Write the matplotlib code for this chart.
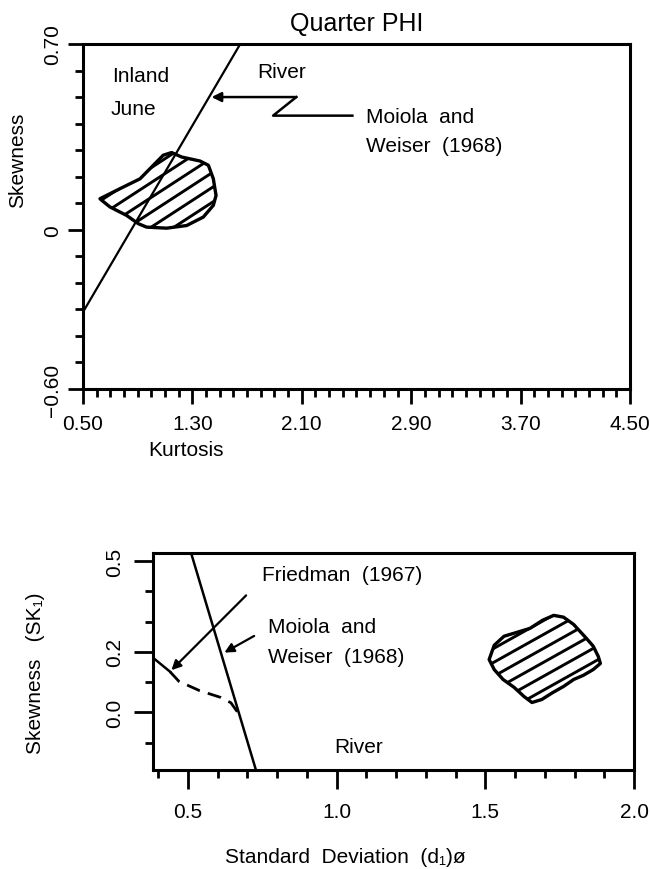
#==============================================
# IMPORT LIBRARIES
#==============================================

import numpy as np
import matplotlib
matplotlib.use("Agg")
import matplotlib.pyplot as plt
from matplotlib.patches import Polygon
from matplotlib.ticker import MultipleLocator

plt.rcParams["font.family"]=["Liberation Sans","DejaVu Sans"]
plt.rcParams["font.size"]=15

#==============================================
# DATA - TOP PANEL (KURTOSIS vs SKEWNESS)
#==============================================

top_xlim=[0.50,4.50]
top_ylim=[-0.60,0.70]
top_xticks=[0.50,1.30,2.10,2.90,3.70,4.50]
top_xtick_labels=["0.50","1.30","2.10","2.90","3.70","4.50"]
top_yticks=[0.70,0.0,-0.60]
top_ytick_labels=["0.70","0","\u22120.60"]

# Moiola and Weiser (1968) boundary, inland / river
top_line_x=[0.50,1.65]
top_line_y=[-0.31,0.70]

# arrow label path (zig-zag), last point is the arrow tip
top_arrow_x=[2.47,1.89,2.06,1.44]
top_arrow_y=[0.43,0.43,0.50,0.50]

# Quarter PHI sample field
top_blob_x=[0.624,0.771,0.917,1.014,1.087,1.148,1.222,1.356,1.417,1.453,1.473,
            1.453,1.380,1.258,1.111,0.965,0.904,0.819,0.697,0.637]
top_blob_y=[0.117,0.155,0.192,0.243,0.281,0.291,0.274,0.259,0.243,0.192,0.129,
            0.092,0.048,0.016,0.006,0.010,0.023,0.054,0.086,0.111]

#==============================================
# DATA - BOTTOM PANEL (SORTING vs SKEWNESS)
#==============================================

bot_xlim=[0.383,2.0]
bot_ylim=[-0.19,0.527]
bot_xticks=[0.5,1.0,1.5,2.0]
bot_xtick_labels=["0.5","1.0","1.5","2.0"]
bot_yticks=[0.5,0.2,0.0]
bot_ytick_labels=["0.5","0.2","0.0"]

# Moiola and Weiser (1968) line
bot_line_x=[0.511,0.729]
bot_line_y=[0.527,-0.19]

# Friedman (1967) boundary: solid start then dashed
fried_solid_x=[0.383,0.44]
fried_solid_y=[0.181,0.135]
fried_dash_x=[0.44,0.47,0.54,0.61,0.645,0.668]
fried_dash_y=[0.135,0.103,0.072,0.050,0.032,0.0]

# label arrows: [start, tip]
fried_arrow_x=[0.696,0.445]
fried_arrow_y=[0.387,0.140]
moiola_arrow_x=[0.723,0.623]
moiola_arrow_y=[0.253,0.198]

# sample field
bot_blob_x=[1.513,1.530,1.563,1.607,1.650,1.693,1.730,1.763,1.797,1.840,1.863,1.880,
            1.887,1.863,1.830,1.797,1.763,1.727,1.690,1.657,1.630,1.597,1.560,1.530]
bot_blob_y=[0.175,0.222,0.252,0.265,0.278,0.305,0.321,0.315,0.291,0.245,0.219,0.185,
            0.162,0.142,0.123,0.109,0.086,0.066,0.043,0.033,0.053,0.083,0.109,0.142]

#==============================================
# HELPERS
#==============================================

def hatch_blob(ax,xs,ys,slope,step):
    outline=Polygon(np.column_stack([xs,ys]),closed=True,fill=False,
                    lw=2.4,edgecolor="black",joinstyle="round")
    ax.add_patch(outline)
    xa,xb=min(xs),max(xs)
    offs=[y-slope*x for x,y in zip(xs,ys)]
    for c in np.arange(min(offs)+step*0.6,max(offs),step):
        ln,=ax.plot([xa,xb],[c+slope*xa,c+slope*xb],color="black",lw=2.1)
        ln.set_clip_path(outline)

def style_axes(ax,major_len,minor_len,xpad,ypad):
    for s in ax.spines.values():
        s.set_linewidth(2.2)
    ax.xaxis.set_minor_locator(MultipleLocator(0.1))
    ax.yaxis.set_minor_locator(MultipleLocator(0.1))
    ax.tick_params(which="major",direction="out",length=major_len,width=2.0)
    ax.tick_params(which="minor",direction="out",length=minor_len,width=2.0)
    ax.tick_params(axis="x",which="major",pad=xpad)
    ax.tick_params(axis="y",which="major",pad=ypad)
    for t in ax.get_yticklabels():
        t.set_rotation(90)
        t.set_va("center")

#==============================================
# FIGURE
#==============================================

fig=plt.figure(figsize=(6.5,8.7),dpi=100)

# ---- top panel ----
ax1=fig.add_axes([0.1277,0.5517,0.8415,0.3966])
ax1.set_xlim(top_xlim)
ax1.set_ylim(top_ylim)
ax1.set_xticks(top_xticks)
ax1.set_xticklabels(top_xtick_labels)
ax1.set_yticks(top_yticks)
ax1.set_yticklabels(top_ytick_labels)
style_axes(ax1,11,5.5,7,4)

ax1.plot(top_line_x,top_line_y,color="black",lw=1.6)
ax1.plot(top_arrow_x[:-1],top_arrow_y[:-1],color="black",lw=1.8)
ax1.annotate("",xy=(top_arrow_x[-1],top_arrow_y[-1]),
             xytext=(top_arrow_x[-2],top_arrow_y[-2]),
             arrowprops=dict(arrowstyle="-|>",color="black",lw=1.8,
                             mutation_scale=14,shrinkA=0,shrinkB=0))
hatch_blob(ax1,top_blob_x,top_blob_y,0.335,0.056)

ax1.text(0.712,0.581,"Inland",va="center")
ax1.text(0.700,0.457,"June",va="center")
ax1.text(1.772,0.596,"River",va="center")
ax1.text(2.57,0.426,"Moiola  and",va="center")
ax1.text(2.57,0.317,"Weiser  (1968)",va="center")

ax1.set_title("Quarter PHI",pad=10)
ax1.set_xlabel("Kurtosis")
ax1.xaxis.set_label_coords(0.188,-0.148)
ax1.set_ylabel("Skewness")
ax1.yaxis.set_label_coords(-0.102,0.667)

# ---- bottom panel ----
ax2=fig.add_axes([0.2354,0.1138,0.7400,0.2494])
ax2.set_xlim(bot_xlim)
ax2.set_ylim(bot_ylim)
ax2.set_xticks(bot_xticks)
ax2.set_xticklabels(bot_xtick_labels)
ax2.set_yticks(bot_yticks)
ax2.set_yticklabels(bot_ytick_labels)
style_axes(ax2,14,6,9,7)

ax2.plot(bot_line_x,bot_line_y,color="black",lw=1.8)
ax2.plot(fried_solid_x,fried_solid_y,color="black",lw=1.8)
ax2.plot(fried_dash_x,fried_dash_y,color="black",lw=2.0,dashes=(5,3))
ax2.annotate("",xy=(fried_arrow_x[1],fried_arrow_y[1]),
             xytext=(fried_arrow_x[0],fried_arrow_y[0]),
             arrowprops=dict(arrowstyle="-|>",color="black",lw=1.6,
                             mutation_scale=14,shrinkA=0,shrinkB=0))
ax2.annotate("",xy=(moiola_arrow_x[1],moiola_arrow_y[1]),
             xytext=(moiola_arrow_x[0],moiola_arrow_y[0]),
             arrowprops=dict(arrowstyle="-|>",color="black",lw=1.6,
                             mutation_scale=14,shrinkA=0,shrinkB=0))
hatch_blob(ax2,bot_blob_x,bot_blob_y,0.55,0.046)

ax2.text(0.751,0.457,"Friedman  (1967)",va="center")
ax2.text(0.771,0.285,"Moiola  and",va="center")
ax2.text(0.771,0.185,"Weiser  (1968)",va="center")
ax2.text(0.993,-0.113,"River",va="center")

ax2.set_xlabel("Standard  Deviation  (d\u2081)\u00f8")
ax2.xaxis.set_label_coords(0.40,-0.355)
ax2.set_ylabel("Skewness   (SK\u2081)")
ax2.yaxis.set_label_coords(-0.225,0.45)

fig.savefig("out.png",dpi=100)
